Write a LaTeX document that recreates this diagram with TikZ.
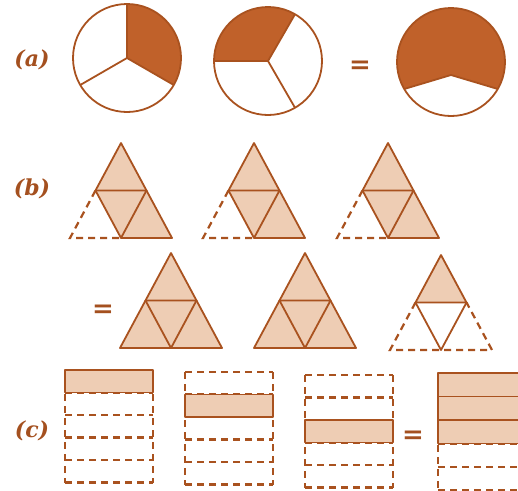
\documentclass[tikz,border=0pt]{standalone}
\usepackage{fontspec}
\newfontfamily\labelfont{DejaVu Serif}
\usepackage{tikz}
\usetikzlibrary{calc}
\definecolor{ncline}{HTML}{A9521F}
\definecolor{ncdark}{HTML}{C0612A}
\definecolor{nclight}{HTML}{EECDB4}
\definecolor{nctext}{HTML}{A4501F}

\begin{document}
\begin{tikzpicture}[x=1pt,y=-1pt,
    piece/.style={draw=ncline,line width=1.8pt,line join=round},
    darkpiece/.style={fill=ncdark},
    lightpiece/.style={fill=nclight},
    ghost/.style={draw=ncline,line width=2.2pt,dash pattern=on 7pt off 5pt},
    partlabel/.style={text=nctext,font=\labelfont\fontsize{22}{22}\selectfont\bfseries\itshape},
    equals/.style={text=nctext,font=\labelfont\fontsize{26}{26}\selectfont\bfseries}]
  \useasboundingbox (0,0) rectangle (518,490);
  \clip (0,0) rectangle (518,490);
  \newcommand{\tripts}{
    \coordinate (T) at (0,0);
    \coordinate (L) at (-51,95);
    \coordinate (R) at (51,95);
    \coordinate (ML) at ($(T)!0.5!(L)$);
    \coordinate (MR) at ($(T)!0.5!(R)$);
    \coordinate (MB) at ($(L)!0.5!(R)$);
  }
  % (a) circles
  \node[partlabel] (la) at (32,60) {(a)};
  \begin{scope}[shift={(127,58)},yscale=-1]
    \fill[darkpiece] (0,0) -- (90:54) arc (90:-30:54) -- cycle;
    \draw[piece] (0,0) circle (54);
    \foreach \a in {90,-30,210} {
      \draw[piece] (0,0) -- (\a:54);
    }
  \end{scope}
  \begin{scope}[shift={(268,61)},yscale=-1]
    \fill[darkpiece] (0,0) -- (60:54) arc (60:180:54) -- cycle;
    \draw[piece] (0,0) circle (54);
    \foreach \a in {60,180,-60} {
      \draw[piece] (0,0) -- (\a:54);
    }
  \end{scope}
  \node[equals] (eqa) at (360,67) {=};
  \begin{scope}[shift={(451,62)},yscale=-1]
    \coordinate (V) at (0,-13);
    \fill[darkpiece] (V) -- (210:54) arc (210:-30:54) -- cycle;
    \draw[piece] (0,0) circle (54);
    \draw[piece] (210:54) -- (V) -- (-30:54);
  \end{scope}
  % (b) triangles
  \node[partlabel] (lb) at (32,189) {(b)};
  \foreach \cx in {121,254,388} {
    \begin{scope}[shift={(\cx,143)}]
      \tripts
      \fill[lightpiece] (T) -- (R) -- (MB) -- (ML) -- cycle;
      \draw[piece] (T) -- (R) -- (MB) -- (ML) -- cycle;
      \draw[piece] (ML) -- (MR) -- (MB);
      \draw[ghost] (ML) -- (L) -- (MB);
    \end{scope}
  }
  \node[equals] (eqb) at (103,311) {=};
  \foreach \cx in {171,305} {
    \begin{scope}[shift={(\cx,253)}]
      \tripts
      \fill[lightpiece] (T) -- (L) -- (R) -- cycle;
      \draw[piece] (T) -- (L) -- (R) -- cycle;
      \draw[piece] (ML) -- (MR) -- (MB) -- cycle;
    \end{scope}
  }
  \begin{scope}[shift={(441,255)}]
    \tripts
    \fill[lightpiece] (T) -- (ML) -- (MR) -- cycle;
    \draw[piece] (T) -- (ML) -- (MR) -- cycle;
    \draw[piece] (ML) -- (MB) -- (MR);
    \draw[ghost] (ML) -- (L) -- (R) -- (MR);
  \end{scope}
  % (c) strips
  \node[partlabel] (lc) at (32,431) {(c)};
  \foreach \cx/\cy/\k in {65/370/0,185/372/1,305/375/2} {
    \begin{scope}[shift={(\cx,\cy)}]
      \foreach \j in {0,...,5} {
        \draw[ghost] (0,\j*22.5) -- (88,\j*22.5);
      }
      \draw[ghost] (0,0) -- (0,112.5);
      \draw[ghost] (88,0) -- (88,112.5);
      \filldraw[piece,lightpiece] (0,\k*22.5) rectangle (88,\k*22.5+22.5);
    \end{scope}
  }
  \node[equals] (eqc) at (413,437) {=};
  \begin{scope}[shift={(438,373)}]
    \foreach \j in {3,4,5} {
      \draw[ghost] (0,\j*23.5) -- (88,\j*23.5);
    }
    \draw[ghost] (0,0) -- (0,117.5);
    \filldraw[piece,lightpiece] (0,0) rectangle (88,70.5);
    \draw[piece] (0,23.5) -- (88,23.5);
    \draw[piece] (0,47) -- (88,47);
  \end{scope}
\end{tikzpicture}
\end{document}
